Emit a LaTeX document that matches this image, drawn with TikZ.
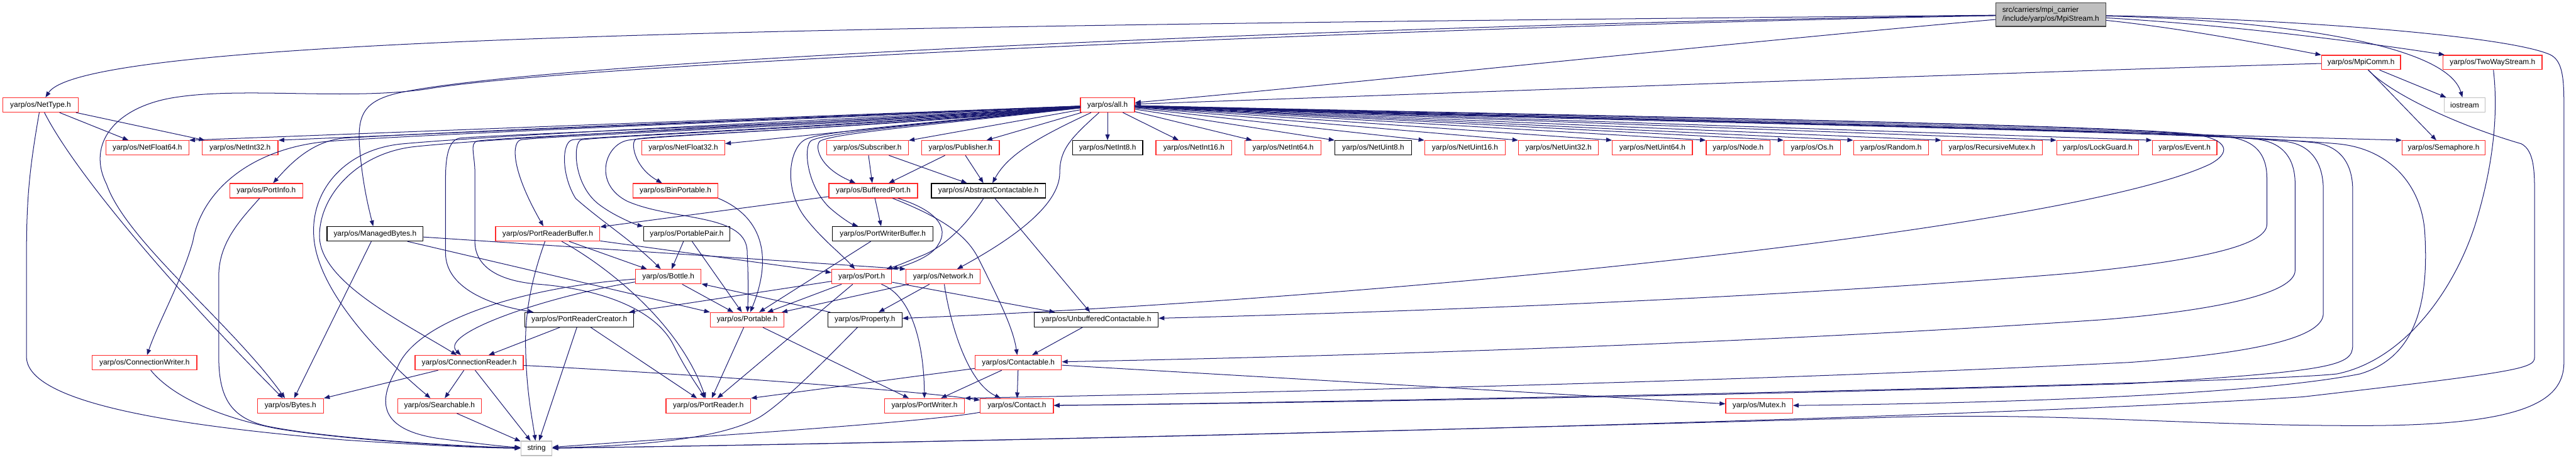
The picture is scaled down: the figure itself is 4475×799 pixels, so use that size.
\documentclass[tikz,border=0pt]{standalone}
\usepackage{fontspec}
\setmainfont{Liberation Sans}
\usepackage{tikz}
\usetikzlibrary{arrows.meta}
\definecolor{edgeblue}{HTML}{191970}
\definecolor{nodered}{HTML}{FF2A2A}
\definecolor{sysgray}{HTML}{BFBFBF}
\definecolor{rootfill}{HTML}{BFBFBF}

\begin{document}
\begin{tikzpicture}[
    x=1pt, y=-1pt,
    >={Triangle[length=10pt,width=7.5pt]},
    hbox/.style={
        rectangle,
        fill=white,
        line width=1.4pt,
        minimum height=25pt,
        inner xsep=2pt,
        inner ysep=0pt,
        font=\fontsize{13}{15}\selectfont
    },
    redbox/.style={hbox, draw=nodered},
    blackbox/.style={hbox, draw=black},
    sysbox/.style={hbox, draw=sysgray},
    rootbox/.style={
        hbox,
        draw=black!75,
        fill=rootfill,
        minimum height=41pt,
        align=left
    },
    dep/.style={
        ->,
        color=edgeblue,
        line width=1.1pt
    }
]

\useasboundingbox (0,0) rectangle (4475,799);

% ============================================================
% TOP
% ============================================================

\node[rootbox, minimum width=191pt] (mpistream) at (3562.5,25.5) {src/carriers/mpi\_carrier\\/include/yarp/os/MpiStream.h};
\node[redbox, minimum width=137pt] (mpicomm) at (4101.5,108.5) {yarp/os/MpiComm.h};
\node[redbox, minimum width=172pt] (twoway) at (4330,108.5) {yarp/os/TwoWayStream.h};
\node[redbox, minimum width=131pt] (nettype) at (70.5,182.5) {yarp/os/NetType.h};
\node[redbox, minimum width=94pt] (allh) at (1924,182.5) {yarp/os/all.h};
\node[sysbox, minimum width=71pt] (hiostream) at (4281.5,182.5) {iostream};

% ============================================================
% ROW OF SIMPLE HEADERS
% ============================================================

\node[redbox, minimum width=144pt] (netfloat64) at (256,257) {yarp/os/NetFloat64.h};
\node[redbox, minimum width=132pt] (netint32) at (417,257) {yarp/os/NetInt32.h};
\node[redbox, minimum width=144pt] (netfloat32) at (1187,257) {yarp/os/NetFloat32.h};
\node[redbox, minimum width=142pt] (subscriber) at (1507,257) {yarp/os/Subscriber.h};
\node[redbox, minimum width=135pt] (publisher) at (1668.5,257) {yarp/os/Publisher.h};
\node[blackbox, minimum width=122pt] (netint8) at (1924,257) {yarp/os/NetInt8.h};
\node[redbox, minimum width=132pt] (netint16) at (2074,257) {yarp/os/NetInt16.h};
\node[redbox, minimum width=132pt] (netint64) at (2229,257) {yarp/os/NetInt64.h};
\node[blackbox, minimum width=133pt] (netuint8) at (2385.5,257) {yarp/os/NetUint8.h};
\node[redbox, minimum width=140pt] (netuint16) at (2545,257) {yarp/os/NetUint16.h};
\node[redbox, minimum width=139pt] (netuint32) at (2707.5,257) {yarp/os/NetUint32.h};
\node[redbox, minimum width=139pt] (netuint64) at (2870.5,257) {yarp/os/NetUint64.h};
\node[redbox, minimum width=111pt] (nodeh) at (3019.5,257) {yarp/os/Node.h};
\node[redbox, minimum width=98pt] (osh) at (3148,257) {yarp/os/Os.h};
\node[redbox, minimum width=130pt] (randomh) at (3285,257) {yarp/os/Random.h};
\node[redbox, minimum width=175pt] (recmutex) at (3460.5,257) {yarp/os/RecursiveMutex.h};
\node[redbox, minimum width=142pt] (lockguard) at (3644,257) {yarp/os/LockGuard.h};
\node[redbox, minimum width=112pt] (eventh) at (3795,257) {yarp/os/Event.h};
\node[redbox, minimum width=144pt] (semaphore) at (4245,257) {yarp/os/Semaphore.h};

% ============================================================
% PORT LAYERS
% ============================================================

\node[redbox, minimum width=127pt] (portinfo) at (462.5,331.5) {yarp/os/PortInfo.h};
\node[redbox, minimum width=147pt] (binportable) at (1173.5,331.5) {yarp/os/BinPortable.h};
\node[redbox, minimum width=154pt] (bufferedport) at (1517,331.5) {yarp/os/BufferedPort.h};
\node[blackbox, minimum width=198pt] (abscontact) at (1717,331.5) {yarp/os/AbstractContactable.h};

\node[blackbox, minimum width=167pt] (managedbytes) at (651.5,406.5) {yarp/os/ManagedBytes.h};
\node[redbox, minimum width=181pt] (readerbuffer) at (951.5,406.5) {yarp/os/PortReaderBuffer.h};
\node[blackbox, minimum width=150pt] (portablepair) at (1193,406.5) {yarp/os/PortablePair.h};
\node[blackbox, minimum width=175pt] (writerbuffer) at (1533.5,406.5) {yarp/os/PortWriterBuffer.h};

\node[redbox, minimum width=114pt] (bottle) at (1161,481) {yarp/os/Bottle.h};
\node[redbox, minimum width=104pt] (port) at (1497,481) {yarp/os/Port.h};
\node[redbox, minimum width=129pt] (network) at (1638.5,481) {yarp/os/Network.h};

\node[blackbox, minimum width=189pt] (readercreator) at (1006.5,556) {yarp/os/PortReaderCreator.h};
\node[redbox, minimum width=128pt] (portable) at (1298,556) {yarp/os/Portable.h};
\node[blackbox, minimum width=129pt] (property) at (1502.5,556) {yarp/os/Property.h};
\node[blackbox, minimum width=215pt] (unbuffered) at (1904.5,556) {yarp/os/UnbufferedContactable.h};

\node[redbox, minimum width=182pt] (connwriter) at (251,630.5) {yarp/os/ConnectionWriter.h};
\node[redbox, minimum width=188pt] (connreader) at (815,630.5) {yarp/os/ConnectionReader.h};
\node[redbox, minimum width=150pt] (contactable) at (1769,630.5) {yarp/os/Contactable.h};

\node[redbox, minimum width=115pt] (bytes) at (504.5,705.5) {yarp/os/Bytes.h};
\node[redbox, minimum width=145pt] (searchable) at (763.5,705.5) {yarp/os/Searchable.h};
\node[redbox, minimum width=147pt] (portreader) at (1230.5,705.5) {yarp/os/PortReader.h};
\node[redbox, minimum width=138pt] (portwriter) at (1606,705.5) {yarp/os/PortWriter.h};
\node[redbox, minimum width=127pt] (contact) at (1766.5,705.5) {yarp/os/Contact.h};
\node[redbox, minimum width=116pt] (mutex) at (3056,705.5) {yarp/os/Mutex.h};

\node[sysbox, minimum width=54pt] (hstring) at (932,779.5) {string};

% ============================================================
% MPISTREAM
% ============================================================

\draw[dep] (mpistream) .. controls (1500,45) and (150,60) .. (nettype);
\draw[dep] (mpistream) .. controls (2500,40) and (1000,100) .. (700,160)
    .. controls (630,174) and (620,200) .. (625,260)
    .. controls (630,320) and (640,360) .. (managedbytes);
\draw[dep] (mpistream) .. controls (2500,45) and (1000,110) .. (740,155)
    .. controls (600,175) and (420,150) .. (300,170)
    .. controls (200,187) and (150,250) .. (185,320)
    .. controls (220,420) and (400,560) .. (bytes);
\draw[dep] (mpistream) .. controls (3000,75) and (2300,150) .. (allh);
\draw[dep] (mpistream) .. controls (3800,50) and (3950,80) .. (mpicomm);
\draw[dep] (mpistream) .. controls (3900,45) and (4150,80) .. (twoway);
\draw[dep] (mpistream) .. controls (3950,35) and (4250,75) .. (hiostream);
\draw[dep] (mpistream) .. controls (3950,32) and (4350,60) .. (4430,95)
    .. controls (4450,105) and (4454,130) .. (4454,180) -- (4454,630)
    .. controls (4454,700) and (4380,740) .. (4100,740)
    .. controls (3800,740) and (3600,718) .. (3300,725)
    .. controls (2500,748) and (1500,772) .. (hstring);

% ============================================================
% MPICOMM / TWOWAYSTREAM
% ============================================================

\draw[dep] (mpicomm) .. controls (3500,125) and (2300,170) .. (allh);
\draw[dep] (mpicomm) -- (hiostream);
\draw[dep] (mpicomm) -- (semaphore);
\draw[dep] (mpicomm) .. controls (4150,160) and (4260,215) .. (4380,250)
    .. controls (4403,262) and (4403,300) .. (4403,340) -- (4403,620)
    .. controls (4403,640) and (4390,645) .. (4000,690)
    .. controls (3300,735) and (1500,772) .. (hstring);

\draw[dep] (twoway) .. controls (4337,170) and (4340,260) .. (4300,390)
    .. controls (4265,500) and (4180,625) .. (4060,650)
    .. controls (3900,668) and (2300,700) .. (contact);

% ============================================================
% NETTYPE
% ============================================================

\draw[dep] (nettype) -- (netfloat64);
\draw[dep] (nettype) -- (netint32);
\draw[dep] (nettype) .. controls (130,300) and (300,500) .. (bytes);
\draw[dep] (nettype) .. controls (50,300) and (46,350) .. (46,450) -- (46,620)
    .. controls (46,700) and (300,740) .. (600,765)
    .. controls (750,775) and (850,779) .. (hstring);

% ============================================================
% ALL.H -> SIMPLE HEADERS
% ============================================================

\draw[dep] (allh) -- (netfloat64.north east);
\draw[dep] (allh) -- (netint32.north east);
\draw[dep] (allh) -- (netfloat32);
\draw[dep] (allh) -- (subscriber);
\draw[dep] (allh) -- (publisher);
\draw[dep] (allh) -- (netint8);
\draw[dep] (allh) -- (netint16);
\draw[dep] (allh) -- (netint64);
\draw[dep] (allh) -- (netuint8.north west);
\draw[dep] (allh) -- (netuint16.north west);
\draw[dep] (allh) -- (netuint32.north west);
\draw[dep] (allh) -- (netuint64.north west);
\draw[dep] (allh) -- (nodeh.north west);
\draw[dep] (allh) -- (osh.north west);
\draw[dep] (allh) -- (randomh.north west);
\draw[dep] (allh) -- (recmutex.north west);
\draw[dep] (allh) -- (lockguard.north west);
\draw[dep] (allh) -- (eventh.north west);
\draw[dep] (allh) -- (semaphore.north west);

% ============================================================
% ALL.H -> LEFT BLOCK
% ============================================================

\draw[dep] (allh) .. controls (1500,200) and (800,228) .. (600,240)
    .. controls (540,244) and (500,290) .. (portinfo);
\draw[dep] (allh) .. controls (1500,203) and (800,230) .. (580,245)
    .. controls (440,254) and (350,330) .. (335,420)
    .. controls (315,490) and (275,560) .. (connwriter);
\draw[dep] (allh) .. controls (1500,206) and (900,232) .. (700,250)
    .. controls (600,259) and (540,330) .. (545,410)
    .. controls (550,500) and (650,610) .. (searchable);
\draw[dep] (allh) .. controls (1500,209) and (900,236) .. (720,255)
    .. controls (620,266) and (555,340) .. (555,410)
    .. controls (555,490) and (700,560) .. (connreader);
\draw[dep] (allh) .. controls (1500,212) and (900,232) .. (800,240)
    .. controls (780,242) and (774,270) .. (774,310) -- (774,440)
    .. controls (774,500) and (850,530) .. (readercreator);
\draw[dep] (allh) .. controls (1500,214) and (900,236) .. (830,245)
    .. controls (815,248) and (825,270) .. (825,300) -- (825,420)
    .. controls (825,460) and (860,488) .. (934,494)
    .. controls (1050,503) and (1140,540) .. (1170,600)
    .. controls (1195,650) and (1215,675) .. (portreader);
\draw[dep] (allh) .. controls (1500,216) and (950,236) .. (905,243)
    .. controls (890,246) and (885,290) .. (readerbuffer);
\draw[dep] (allh) .. controls (1500,218) and (1050,236) .. (995,243)
    .. controls (975,246) and (975,305) .. (1000,345)
    .. controls (1045,385) and (1100,420) .. (bottle);
\draw[dep] (allh) .. controls (1500,220) and (1060,236) .. (1010,243)
    .. controls (995,246) and (995,320) .. (1040,355)
    .. controls (1070,378) and (1110,392) .. (portablepair);
\draw[dep] (allh) .. controls (1500,222) and (1130,236) .. (1090,244)
    .. controls (1050,252) and (1030,320) .. (1090,350)
    .. controls (1170,385) and (1300,370) .. (1298,440)
    .. controls (1300,480) and (1300,510) .. (portable);
\draw[dep] (allh) .. controls (1500,224) and (1140,234) .. (1105,242)
    .. controls (1095,245) and (1100,290) .. (binportable);
\draw[dep] (allh) .. controls (1600,215) and (1430,228) .. (1400,242)
    .. controls (1370,256) and (1360,330) .. (1400,380)
    .. controls (1430,418) and (1460,440) .. (port);
\draw[dep] (allh) .. controls (1600,217) and (1440,230) .. (1410,244)
    .. controls (1395,252) and (1400,320) .. (1440,360)
    .. controls (1460,378) and (1480,390) .. (writerbuffer);
\draw[dep] (allh) .. controls (1600,219) and (1450,232) .. (1425,245)
    .. controls (1415,252) and (1420,290) .. (bufferedport);
\draw[dep] (allh) .. controls (1800,240) and (1750,270) .. (abscontact);
\draw[dep] (allh) .. controls (1860,240) and (1841,260) .. (1841,300)
    .. controls (1841,360) and (1750,420) .. (network);

% ============================================================
% ALL.H -> RIGHT LOOPS
% ============================================================

\draw[dep] (allh) .. controls (2700,200) and (3600,215) .. (3800,232)
    .. controls (3860,238) and (3885,260) .. (3840,285)
    .. controls (3600,400) and (2400,520) .. (property);
\draw[dep] (allh) .. controls (2700,202) and (3650,214) .. (3870,238)
    .. controls (3920,244) and (3938,270) .. (3938,310) -- (3938,390)
    .. controls (3938,430) and (3800,455) .. (3600,475)
    .. controls (3000,525) and (2300,546) .. (unbuffered);
\draw[dep] (allh) .. controls (2700,204) and (3700,218) .. (3920,242)
    .. controls (3970,248) and (3987,280) .. (3987,320) -- (3987,470)
    .. controls (3987,510) and (3850,540) .. (3650,556)
    .. controls (3000,600) and (2300,620) .. (contactable);
\draw[dep] (allh) .. controls (2700,206) and (3750,222) .. (3970,246)
    .. controls (4020,252) and (4036,290) .. (4036,330) -- (4036,545)
    .. controls (4036,590) and (3900,615) .. (3700,630)
    .. controls (3000,665) and (2200,682) .. (portwriter.north east);
\draw[dep] (allh) .. controls (2700,208) and (3800,224) .. (4020,248)
    .. controls (4070,254) and (4087,290) .. (4087,330) -- (4087,600)
    .. controls (4087,635) and (4060,645) .. (3700,667)
    .. controls (3000,688) and (2300,700) .. (contact);
\draw[dep] (allh) .. controls (2700,210) and (3800,226) .. (4060,250)
    .. controls (4150,258) and (4205,320) .. (4212,400)
    .. controls (4220,520) and (4200,620) .. (4100,650)
    .. controls (3900,690) and (3400,702) .. (mutex);

% ============================================================
% SUBSCRIBER / PUBLISHER / BUFFEREDPORT
% ============================================================

\draw[dep] (subscriber) -- (bufferedport);
\draw[dep] (subscriber) -- (abscontact);
\draw[dep] (publisher) -- (bufferedport);
\draw[dep] (publisher) -- (abscontact);

\draw[dep] (bufferedport) -- (writerbuffer);
\draw[dep] (bufferedport) -- (readerbuffer);
\draw[dep] (bufferedport) .. controls (1625,365) and (1650,395) .. (1630,425)
    .. controls (1620,445) and (1580,460) .. (port);
\draw[dep] (bufferedport) .. controls (1640,380) and (1680,410) .. (1700,450)
    .. controls (1735,520) and (1760,570) .. (contactable);

\draw[dep] (abscontact) .. controls (1680,390) and (1640,430) .. (1600,445)
    .. controls (1575,455) and (1565,460) .. (port);
\draw[dep] (abscontact) -- (unbuffered);

% ============================================================
% MIDDLE
% ============================================================

\draw[dep] (managedbytes) -- (bytes);
\draw[dep] (managedbytes) -- (network.north west);
\draw[dep] (managedbytes) -- (portable.north west);

\draw[dep] (readerbuffer) -- (bottle);
\draw[dep] (readerbuffer) -- (port);
\draw[dep] (readerbuffer) .. controls (1050,460) and (1180,560) .. (portreader);
\draw[dep] (readerbuffer) .. controls (925,480) and (912,540) .. (913,600)
    .. controls (914,680) and (925,730) .. (hstring);

\draw[dep] (portablepair) -- (bottle);
\draw[dep] (portablepair) -- (portable);
\draw[dep] (binportable.south east) .. controls (1320,375) and (1345,440) .. (portable);
\draw[dep] (writerbuffer) -- (portable);

\draw[dep] (bottle) -- (portable);
\draw[dep] (bottle) .. controls (950,515) and (760,580) .. (connreader);
\draw[dep] (bottle) .. controls (900,500) and (720,560) .. (690,640)
    .. controls (660,690) and (650,745) .. (760,762)
    .. controls (820,770) and (870,776) .. (hstring);

\draw[dep] (port) -- (readercreator);
\draw[dep] (port) -- (portable);
\draw[dep] (port) -- (portreader);
\draw[dep] (port) .. controls (1585,515) and (1605,600) .. (portwriter);
\draw[dep] (port) -- (unbuffered);

\draw[dep] (network) -- (portable);
\draw[dep] (network) -- (property);
\draw[dep] (network) .. controls (1650,560) and (1680,665) .. (contact);

\draw[dep] (property) -- (bottle);
\draw[dep] (property) .. controls (1420,640) and (1360,700) .. (1320,725)
    .. controls (1250,765) and (1100,775) .. (hstring);

% ============================================================
% LOWER
% ============================================================

\draw[dep] (readercreator) -- (connreader);
\draw[dep] (readercreator) -- (portreader);
\draw[dep] (readercreator) -- (hstring);

\draw[dep] (portable) -- (portreader);
\draw[dep] (portable) -- (portwriter);

\draw[dep] (unbuffered) -- (contactable);

\draw[dep] (contactable) -- (portwriter);
\draw[dep] (contactable) -- (contact);
\draw[dep] (contactable) -- (portreader.north east);
\draw[dep] (contactable) -- (mutex);

\draw[dep] (connreader) -- (bytes.north east);
\draw[dep] (connreader) -- (searchable);
\draw[dep] (connreader) -- (hstring);
\draw[dep] (connreader) .. controls (1200,650) and (1600,680) .. (contact);

\draw[dep] (portinfo) .. controls (420,380) and (380,420) .. (380,480) -- (380,620)
    .. controls (380,690) and (400,725) .. (460,740)
    .. controls (560,762) and (800,776) .. (hstring);
\draw[dep] (connwriter) .. controls (300,690) and (380,725) .. (480,745)
    .. controls (600,765) and (800,777) .. (hstring);
\draw[dep] (searchable) -- (hstring);
\draw[dep] (contact) .. controls (1600,735) and (1200,760) .. (hstring);

\end{tikzpicture}
\end{document}
